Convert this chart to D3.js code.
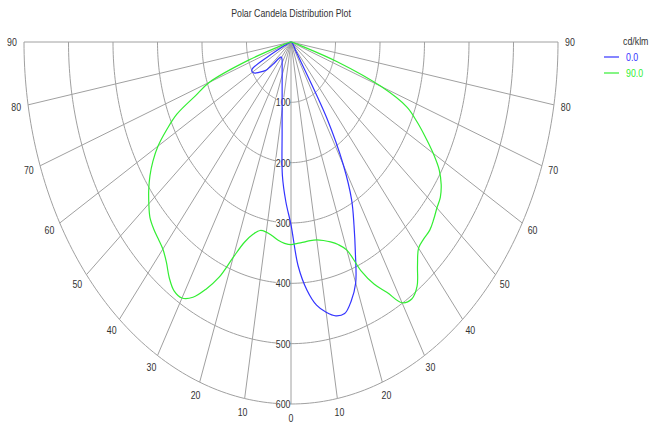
<!DOCTYPE html>
<html><head><meta charset="utf-8">
<script src="https://cdn.jsdelivr.net/npm/d3@7"></script>
<style>html,body{margin:0;padding:0;background:#fff;}svg{display:block;}</style>
</head><body>
<svg id="c" width="654" height="426"></svg>
<script>
const title = "Polar Candela Distribution Plot";
const unitLabel = "cd/klm";
const seriesNames = ["0.0", "90.0"];
const ringValues = [100, 200, 300, 400, 500, 600];
const spokeAngles = [-90,-80,-70,-60,-50,-40,-30,-20,-10,0,10,20,30,40,50,60,70,80,90];
const angleTickLabels = ["90","80","70","60","50","40","30","20","10","0","10","20","30","40","50","60","70","80","90"];
const angles = [-90,-87.5,-85,-82.5,-80,-77.5,-75,-72.5,-70,-67.5,-65,-62.5,-60,-57.5,-55,-52.5,-50,-47.5,-45,-42.5,-40,-37.5,-35,-32.5,-30,-27.5,-25,-22.5,-20,-17.5,-15,-12.5,-10,-7.5,-5,-2.5,0,2.5,5,7.5,10,12.5,15,17.5,20,22.5,25,27.5,30,32.5,35,37.5,40,42.5,45,47.5,50,52.5,55,57.5,60,62.5,65,67.5,70,72.5,75,77.5,80,82.5,85,87.5,90];
const plane0 = [0,0,0,0,0,0,1,2,5,15,55,99,100,96,88,80,72,55,38,34,33,34,35,37,40,43,47,52,58,66,77,92,115,153,222,265,303,372,413,440,455,465,466,450,425,378,335,295,235,150,25,15,12,10,8,7,6,5,4,4,3,3,2,2,1,1,0,0,0,0,0,0,0];
const plane90 = [0,0,2,3,5,8,20,100,195,232,283,315,345,368,387,403,417,430,437,442,448,460,477,489,490,477,452,422,380,348,330,320,320,324,330,334,336,334,333,332,333,337,343,352,367,410,443,468,499,505,494,467,446,442,441,435,428,423,412,395,369,340,312,282,215,110,20,8,5,3,2,0,0];
const seriesColors = ["#3333ff", "#33ee33"];

const svg = d3.select("#c");
const cx = 291, cy = 42;
const rx = d3.scaleLinear().domain([0, 600]).range([0, 267]);
const ry = d3.scaleLinear().domain([0, 600]).range([0, 362]);
const rad = d => d * Math.PI / 180;
const px = (a, r) => cx + rx(r) * Math.sin(rad(a));
const py = (a, r) => cy + ry(r) * Math.cos(rad(a));
const gridColor = "#a0a0a0";
const textColor = "#333";
const font = "'Liberation Sans', Arial, sans-serif";

function label(x, y, txt, opts = {}) {
  const g = svg.append("g").attr("transform", `translate(${x},${y}) scale(0.8,1)`);
  const t = g.append("text").attr("x", 0).attr("y", 0)
    .attr("font-family", font).attr("font-size", opts.size || 11)
    .attr("fill", opts.color || textColor)
    .attr("text-anchor", opts.anchor || "middle")
    .attr("dominant-baseline", "central")
    .text(txt);
  return t;
}

// rings
const ringArc = d3.line().x(d => px(d[0], d[1])).y(d => py(d[0], d[1]));
ringValues.forEach(v => {
  const pts = d3.range(-90, 90.01, 1).map(a => [a, v]);
  svg.append("path").attr("d", ringArc(pts)).attr("fill", "none")
    .attr("stroke", gridColor).attr("stroke-width", 1);
});
// spokes
spokeAngles.forEach(a => {
  svg.append("line").attr("x1", cx).attr("y1", cy)
    .attr("x2", px(a, 600)).attr("y2", py(a, 600))
    .attr("stroke", gridColor).attr("stroke-width", 1);
});

// ring labels
ringValues.forEach(v => {
  const y = py(0, v);
  svg.append("rect").attr("x", cx - 15).attr("y", y - 5).attr("width", 14).attr("height", 10).attr("fill", "#fff");
  label(cx - 0.5, y, String(v), {anchor: "end"});
});

// angle labels
spokeAngles.forEach((a, i) => {
  const x = px(a, 600) + 12 * Math.sin(rad(a));
  const y = py(a, 600) + 14 * Math.cos(rad(a));
  label(x, y, angleTickLabels[i]);
});

// curves
const curve = d3.line()
  .x(d => px(d[0], d[1])).y(d => py(d[0], d[1]))
  .curve(d3.curveCatmullRom.alpha(0.5));
[plane0, plane90].forEach((vals, i) => {
  const pts = angles.map((a, j) => [a, vals[j]]);
  svg.append("path").attr("d", curve(pts)).attr("fill", "none")
    .attr("stroke", seriesColors[i]).attr("stroke-width", 1.2);
});

// title
label(291, 13, title);

// legend
label(623, 41, unitLabel, {anchor: "start"});
seriesNames.forEach((n, i) => {
  const y = 57 + i * 16;
  svg.append("line").attr("x1", 604).attr("x2", 619).attr("y1", y).attr("y2", y)
    .attr("stroke", seriesColors[i]).attr("stroke-width", 1.2);
  label(626, y, n, {anchor: "start", color: seriesColors[i]});
});
</script>
</body></html>
